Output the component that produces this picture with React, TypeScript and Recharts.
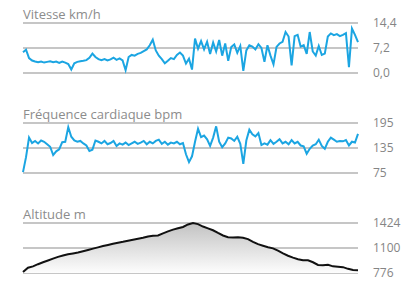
import React from 'react';
import {
  ComposedChart,
  Line,
  Area,
  XAxis,
  YAxis,
  CartesianGrid,
} from 'recharts';

// Vitesse (km/h), one sample every ~3 px of track
const speed = [
  6.0, 6.7, 4.3, 3.6, 3.3, 3.1, 3.3, 3.0, 3.2, 3.4, 3.1, 3.3, 2.9, 3.3, 3.0, 2.6,
  1.0, 2.8, 3.2, 3.4, 3.5, 3.7, 4.4, 5.6, 4.6, 4.0, 3.7, 4.0, 3.6, 3.9, 4.4, 3.8,
  4.2, 3.6, 0.8, 4.6, 5.2, 5.0, 5.5, 5.8, 6.3, 6.8, 8.0, 9.6, 6.5, 5.0, 4.0, 2.8,
  3.5, 4.3, 4.0, 5.2, 5.9, 5.0, 2.7, 4.1, 1.0, 9.9, 7.0, 9.2, 6.8, 9.0, 5.5, 8.8,
  6.2, 9.5, 5.0, 8.5, 3.5, 7.5, 8.2, 5.8, 7.8, 0.6, 6.5, 8.0, 7.6, 6.8, 8.3, 7.2,
  3.2, 8.0, 5.0, 2.5, 7.5, 8.5, 9.0, 11.8, 10.5, 2.2, 10.6, 11.0, 7.6, 8.0, 5.5, 11.8,
  6.2, 5.0, 7.8, 5.2, 5.6, 10.5, 11.4, 10.9, 11.2, 10.6, 11.0, 11.5, 1.7, 12.8, 11.0, 8.9,
];

// Fréquence cardiaque (bpm)
const heartRate = [
  77, 113, 160, 147, 152, 146, 153, 150, 144, 138, 118, 127, 132, 149, 150, 185,
  162, 153, 150, 152, 146, 141, 128, 131, 153, 150, 146, 152, 144, 147, 152, 140,
  146, 143, 148, 142, 146, 150, 145, 148, 152, 144, 150, 146, 152, 155, 145, 150,
  143, 148, 146, 150, 144, 147, 120, 101, 115, 150, 181, 161, 165, 156, 140, 160,
  187, 150, 137, 146, 160, 158, 152, 162, 145, 97, 153, 179, 168, 163, 171, 142,
  146, 143, 154, 145, 150, 156, 146, 150, 144, 154, 146, 150, 141, 139, 121, 133,
  141, 144, 155, 140, 133, 150, 160, 155, 150, 152, 151, 154, 141, 150, 148, 169,
];

// Altitude (m)
const altitude = [
  789, 845, 862, 890, 915, 938, 962, 985, 1002, 1018, 1030, 1042, 1058, 1075, 1092, 1108,
  1125, 1140, 1155, 1168, 1180, 1195, 1208, 1220, 1232, 1248, 1258, 1262, 1290, 1315, 1338, 1355,
  1372, 1405, 1424, 1410, 1378, 1355, 1330, 1295, 1262, 1240, 1236, 1240, 1232, 1215, 1180, 1150,
  1130, 1110, 1095, 1065, 1030, 1000, 975, 955, 942, 940, 915, 880, 875, 882, 862, 858,
  852, 830, 815, 813,
];

const speedTicks = [0, 7.2, 14.4];
const hrTicks = [75, 135, 195];
const altTicks = [776, 1100, 1424];

const FONT = '"Open Sans", sans-serif';
const BLUE = '#1ba5e2';
const GRID = '#b3b3b3';

const toRows = (vals: number[]) => vals.map((v, i) => ({ t: i / (vals.length - 1), v }));

const Panel = ({
  top,
  title,
  data,
  ticks,
  format,
  area,
}: {
  top: number;
  title: string;
  data: { t: number; v: number }[];
  ticks: number[];
  format: (v: number) => string;
  area?: boolean;
}) => (
  <div style={{ position: 'absolute', left: 0, top, width: 420, height: 100 }}>
    <div
      style={{
        position: 'absolute',
        left: 23,
        top: 8,
        fontFamily: FONT,
        fontSize: 13,
        lineHeight: '13px',
        color: '#8c8c8c',
        whiteSpace: 'nowrap',
      }}
    >
      {title}
    </div>
    <ComposedChart
      width={420}
      height={100}
      data={data}
      margin={{ top: 23, right: 0, bottom: 27, left: 23 }}
    >
      {area && (
        <defs>
          <linearGradient id="altFill" x1="0" y1="0" x2="0" y2="1">
            <stop offset="0%" stopColor="#c2c2c2" />
            <stop offset="100%" stopColor="#fdfdfd" />
          </linearGradient>
        </defs>
      )}
      <CartesianGrid vertical={false} stroke={GRID} strokeWidth={1.5} />
      <XAxis dataKey="t" type="number" domain={[0, 1]} hide />
      <YAxis
        orientation="right"
        width={62}
        domain={[ticks[0], ticks[2]]}
        ticks={ticks}
        tickFormatter={format}
        axisLine={false}
        tickLine={false}
        tickSize={0}
        tickMargin={15}
        tick={{ fill: '#858585', fontSize: 12, fontFamily: FONT }}
      />
      {area ? (
        <Area
          type="linear"
          dataKey="v"
          stroke="#111"
          strokeWidth={2}
          fill="url(#altFill)"
          fillOpacity={1}
          baseValue={ticks[0]}
          dot={false}
          activeDot={false}
          isAnimationActive={false}
        />
      ) : (
        <Line
          type="linear"
          dataKey="v"
          stroke={BLUE}
          strokeWidth={2}
          dot={false}
          activeDot={false}
          isAnimationActive={false}
        />
      )}
    </ComposedChart>
  </div>
);

export default function App() {
  return (
    <div
      style={{
        position: 'absolute',
        left: 0,
        top: 0,
        width: 420,
        height: 293,
        background: '#fff',
      }}
    >
      <Panel
        top={0}
        title="Vitesse km/h"
        data={toRows(speed)}
        ticks={speedTicks}
        format={(v) => v.toFixed(1).replace('.', ',')}
      />
      <Panel
        top={100}
        title="Fréquence cardiaque bpm"
        data={toRows(heartRate)}
        ticks={hrTicks}
        format={(v) => String(v)}
      />
      <Panel
        top={200}
        title="Altitude m"
        data={toRows(altitude)}
        ticks={altTicks}
        format={(v) => String(v)}
        area
      />
    </div>
  );
}
